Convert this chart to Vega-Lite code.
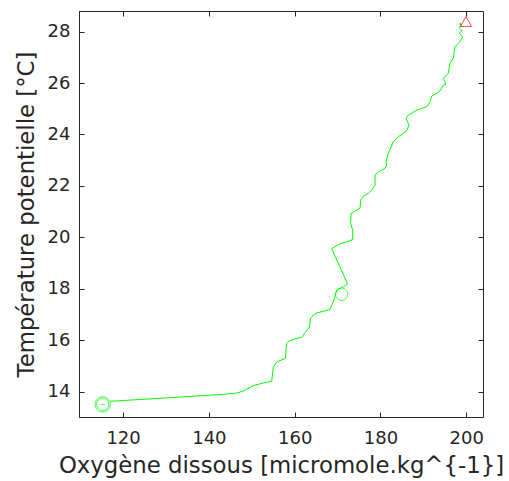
{
  "$schema": "https://vega.github.io/schema/vega-lite/v6.json",
  "width": 404,
  "height": 406,
  "autosize": {"type": "none"},
  "padding": {"left": 79, "top": 11, "right": 26, "bottom": 64},
  "background": "white",
  "config": {
    "view": {"stroke": "#262626", "strokeWidth": 1},
    "axis": {
      "grid": false,
      "domainColor": "#262626",
      "tickColor": "#262626",
      "tickSize": -5,
      "labelFont": "DejaVu Sans",
      "labelFontSize": 18,
      "labelColor": "#262626",
      "titleFont": "DejaVu Sans",
      "titleFontSize": 22.8,
      "titleFontWeight": "normal",
      "titleColor": "#262626"
    }
  },
  "datasets": {
    "profil": [
      {"i": 1, "oxygene": 116.96, "temp": 13.63},
      {"i": 2, "oxygene": 130.94, "temp": 13.77},
      {"i": 3, "oxygene": 143.37, "temp": 13.90},
      {"i": 4, "oxygene": 146.49, "temp": 13.95},
      {"i": 5, "oxygene": 148.03, "temp": 14.03},
      {"i": 6, "oxygene": 150.36, "temp": 14.24},
      {"i": 7, "oxygene": 152.69, "temp": 14.34},
      {"i": 8, "oxygene": 154.65, "temp": 14.42},
      {"i": 9, "oxygene": 155.02, "temp": 14.96},
      {"i": 10, "oxygene": 155.81, "temp": 15.16},
      {"i": 11, "oxygene": 157.87, "temp": 15.30},
      {"i": 12, "oxygene": 158.10, "temp": 15.88},
      {"i": 13, "oxygene": 158.91, "temp": 16.00},
      {"i": 14, "oxygene": 161.64, "temp": 16.12},
      {"i": 15, "oxygene": 162.41, "temp": 16.30},
      {"i": 16, "oxygene": 163.46, "temp": 16.51},
      {"i": 17, "oxygene": 163.69, "temp": 16.85},
      {"i": 18, "oxygene": 164.74, "temp": 17.04},
      {"i": 19, "oxygene": 168.24, "temp": 17.20},
      {"i": 20, "oxygene": 168.64, "temp": 17.36},
      {"i": 21, "oxygene": 169.40, "temp": 17.69},
      {"i": 22, "oxygene": 169.80, "temp": 17.95},
      {"i": 23, "oxygene": 171.34, "temp": 18.08},
      {"i": 24, "oxygene": 172.27, "temp": 18.18},
      {"i": 25, "oxygene": 172.13, "temp": 18.27},
      {"i": 26, "oxygene": 168.64, "temp": 19.56},
      {"i": 27, "oxygene": 170.17, "temp": 19.73},
      {"i": 28, "oxygene": 172.20, "temp": 19.83},
      {"i": 29, "oxygene": 173.53, "temp": 19.92},
      {"i": 30, "oxygene": 173.53, "temp": 20.28},
      {"i": 31, "oxygene": 173.06, "temp": 20.54},
      {"i": 32, "oxygene": 173.13, "temp": 20.93},
      {"i": 33, "oxygene": 174.07, "temp": 21.02},
      {"i": 34, "oxygene": 175.23, "temp": 21.13},
      {"i": 35, "oxygene": 175.40, "temp": 21.45},
      {"i": 36, "oxygene": 176.00, "temp": 21.60},
      {"i": 37, "oxygene": 177.17, "temp": 21.71},
      {"i": 38, "oxygene": 177.96, "temp": 21.84},
      {"i": 39, "oxygene": 178.73, "temp": 22.03},
      {"i": 40, "oxygene": 178.73, "temp": 22.42},
      {"i": 41, "oxygene": 179.50, "temp": 22.55},
      {"i": 42, "oxygene": 181.06, "temp": 22.68},
      {"i": 43, "oxygene": 181.46, "temp": 22.81},
      {"i": 44, "oxygene": 181.29, "temp": 22.94},
      {"i": 45, "oxygene": 181.83, "temp": 23.27},
      {"i": 46, "oxygene": 183.00, "temp": 23.72},
      {"i": 47, "oxygene": 184.16, "temp": 23.91},
      {"i": 48, "oxygene": 186.12, "temp": 24.14},
      {"i": 49, "oxygene": 186.65, "temp": 24.37},
      {"i": 50, "oxygene": 185.95, "temp": 24.63},
      {"i": 51, "oxygene": 186.49, "temp": 24.75},
      {"i": 52, "oxygene": 188.45, "temp": 24.95},
      {"i": 53, "oxygene": 190.78, "temp": 25.08},
      {"i": 54, "oxygene": 191.55, "temp": 25.27},
      {"i": 55, "oxygene": 191.94, "temp": 25.49},
      {"i": 56, "oxygene": 193.72, "temp": 25.66},
      {"i": 57, "oxygene": 194.65, "temp": 25.92},
      {"i": 58, "oxygene": 195.28, "temp": 25.95},
      {"i": 59, "oxygene": 194.65, "temp": 26.18},
      {"i": 60, "oxygene": 195.81, "temp": 26.38},
      {"i": 61, "oxygene": 196.21, "temp": 26.77},
      {"i": 62, "oxygene": 196.98, "temp": 26.96},
      {"i": 63, "oxygene": 197.38, "temp": 27.41},
      {"i": 64, "oxygene": 198.54, "temp": 27.61},
      {"i": 65, "oxygene": 199.17, "temp": 27.80},
      {"i": 66, "oxygene": 198.31, "temp": 27.93},
      {"i": 67, "oxygene": 199.01, "temp": 28.04},
      {"i": 68, "oxygene": 198.31, "temp": 28.16},
      {"i": 69, "oxygene": 199.01, "temp": 28.26},
      {"i": 70, "oxygene": 198.42, "temp": 28.29},
      {"i": 71, "oxygene": 198.77, "temp": 28.33}
    ],
    "reperes": [
      {"repere": "debut", "oxygene": 115.25, "temp": 13.51},
      {"repere": "milieu", "oxygene": 170.96, "temp": 17.79},
      {"repere": "fin", "oxygene": 199.94, "temp": 28.39}
    ]
  },
  "layer": [
    {
      "data": {"name": "profil"},
      "mark": {"type": "line", "color": "#00ff00", "strokeWidth": 1},
      "encoding": {
        "x": {"field": "oxygene", "type": "quantitative",
              "scale": {"domain": [109.73, 203.9], "nice": false, "zero": false},
              "axis": {"title": "Oxygène dissous [micromole.kg^{-1}]", "values": [120, 140, 160, 180, 200], "labelPadding": 17, "titlePadding": 7}},
        "y": {"field": "temp", "type": "quantitative",
              "scale": {"domain": [13.02, 28.8], "nice": false, "zero": false},
              "axis": {"title": "Température potentielle [°C]", "values": [14, 16, 18, 20, 22, 24, 26, 28], "labelPadding": 14, "titlePadding": 9}},
        "order": {"field": "i", "type": "quantitative"}
      }
    },
    {
      "data": {"name": "reperes"},
      "transform": [{"filter": "datum.repere != 'fin'"}],
      "mark": {"type": "point", "shape": "circle", "color": "#00ff00", "filled": false, "strokeWidth": 1, "size": 154},
      "encoding": {
        "x": {"field": "oxygene", "type": "quantitative",
              "scale": {"domain": [109.73, 203.9], "nice": false, "zero": false},
              "axis": {"orient": "top", "title": null, "labels": false, "domain": false, "values": [120, 140, 160, 180, 200]}},
        "y": {"field": "temp", "type": "quantitative",
              "scale": {"domain": [13.02, 28.8], "nice": false, "zero": false},
              "axis": {"orient": "right", "title": null, "labels": false, "domain": false, "values": [14, 16, 18, 20, 22, 24, 26, 28]}}
      }
    },
    {
      "data": {"name": "reperes"},
      "transform": [{"filter": "datum.repere == 'debut'"}],
      "mark": {"type": "point", "shape": "circle", "color": "#00ff00", "filled": false, "strokeWidth": 1, "size": 236},
      "encoding": {
        "x": {"field": "oxygene", "type": "quantitative", "scale": {"domain": [109.73, 203.9], "nice": false, "zero": false}, "axis": null},
        "y": {"field": "temp", "type": "quantitative", "scale": {"domain": [13.02, 28.8], "nice": false, "zero": false}, "axis": null}
      }
    },
    {
      "data": {"name": "reperes"},
      "transform": [{"filter": "datum.repere == 'debut'"}],
      "mark": {"type": "point", "shape": "stroke", "color": "#00ff00", "filled": false, "strokeWidth": 1, "size": 16},
      "encoding": {
        "x": {"field": "oxygene", "type": "quantitative", "scale": {"domain": [109.73, 203.9], "nice": false, "zero": false}, "axis": null},
        "y": {"field": "temp", "type": "quantitative", "scale": {"domain": [13.02, 28.8], "nice": false, "zero": false}, "axis": null}
      }
    },
    {
      "data": {"name": "reperes"},
      "transform": [{"filter": "datum.repere == 'fin'"}],
      "mark": {"type": "point", "shape": "triangle-up", "color": "#ff0000", "filled": false, "strokeWidth": 1, "size": 130},
      "encoding": {
        "x": {"field": "oxygene", "type": "quantitative", "scale": {"domain": [109.73, 203.9], "nice": false, "zero": false}, "axis": null},
        "y": {"field": "temp", "type": "quantitative", "scale": {"domain": [13.02, 28.8], "nice": false, "zero": false}, "axis": null}
      }
    }
  ],
  "resolve": {"axis": {"x": "independent", "y": "independent"}}
}
